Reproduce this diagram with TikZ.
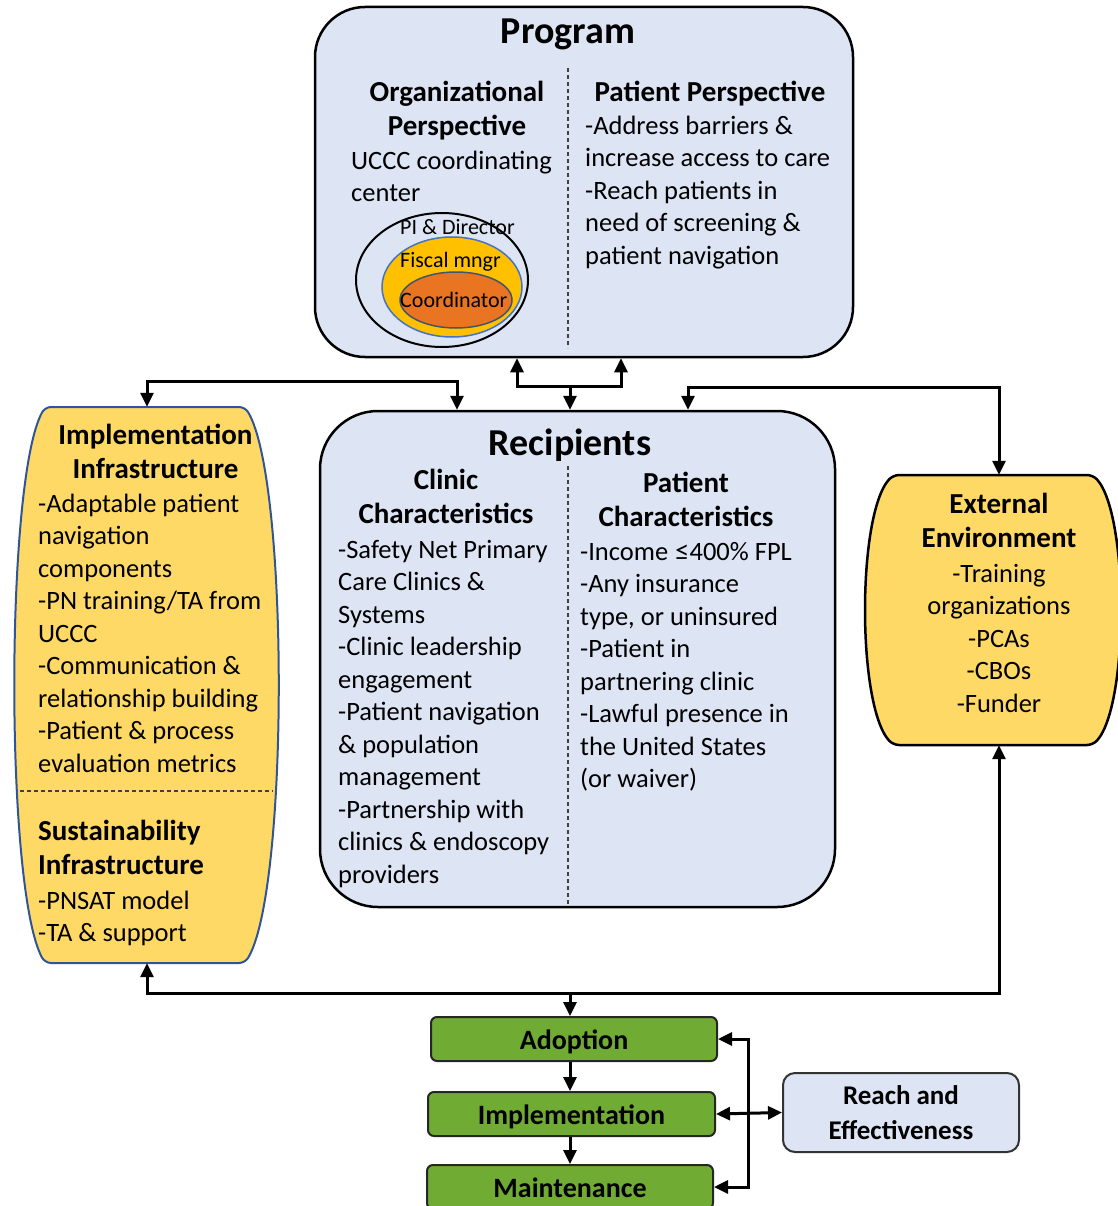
\documentclass[tikz,border=0pt]{standalone}
\usepackage{fontspec}
\setmainfont{Carlito}
\newfontfamily\symfont{Lato}
\usetikzlibrary{arrows.meta,calc}

\definecolor{boxblue}{RGB}{221,228,244}
\definecolor{infyellow}{RGB}{255,217,102}
\definecolor{infborder}{RGB}{47,85,151}
\definecolor{ellyellow}{RGB}{255,192,0}
\definecolor{ellorange}{RGB}{233,117,35}
\definecolor{ellblue}{RGB}{68,114,196}
\definecolor{ellgray}{RGB}{68,84,106}
\definecolor{stagegreen}{RGB}{112,171,52}

\newcommand\fbody{\fontsize{26.5}{32.5}\selectfont}
\newcommand\fhead{\fontsize{29}{34.5}\selectfont\bfseries}
\newcommand\ftitle{\fontsize{38}{44}\selectfont\bfseries}
\newcommand\fsmall{\fontsize{22}{26}\selectfont}
\newcommand\fstage{\fontsize{28}{33}\selectfont\bfseries}
\newcommand\freach{\fontsize{27}{35}\selectfont\bfseries}

\tikzset{
  panel/.style={draw=black, line width=2.5pt, fill=boxblue, rounded corners=50pt, inner sep=0pt},
  anchorbox/.style={inner sep=0pt},
  infra/.style={draw=infborder, line width=2pt, fill=infyellow, rounded corners=6pt},
  envshape/.style={draw=black, line width=2.5pt, fill=infyellow, rounded corners=6pt},
  sep/.style={line width=1.3pt, black!75, dash pattern=on 4pt off 3pt},
  conn/.style={line width=3pt, black},
  stage/.style={draw=black!85, line width=2pt, fill=stagegreen, rounded corners=6pt,
    minimum height=44pt, inner sep=0pt, text height=24pt, text depth=4pt, font=\fstage},
  outcome/.style={draw=black!80, line width=2pt, fill=boxblue, rounded corners=12pt,
    minimum width=236pt, minimum height=79pt, inner sep=0pt, align=center, font=\freach},
  title/.style={anchor=base, inner sep=0pt, font=\ftitle},
  hd/.style={anchor=north, inner sep=0pt, align=center, font=\fhead},
  txt/.style={anchor=north west, inner sep=0pt, align=left, font=\fbody},
  small/.style={anchor=base west, inner sep=0pt, font=\fsmall},
}

\begin{document}
\begin{tikzpicture}[x=1pt, y=-1pt, >={Triangle[length=14pt,width=13pt]}]
\useasboundingbox (0,0) rectangle (1117,1206);

% ---------- Program ----------
\node[panel, minimum width=538pt, minimum height=350pt] (prog) at (584,182) {};
\draw[sep] (568,68) -- (568,348);
\node[title] (progT) at (568,44) {Program};
\node[hd] (orgH) at (457,76.85) {\strut Organizational\\Perspective};
\node[txt] (orgT) at (351,146.25) {\strut UCCC coordinating\\center};
\draw[black, line width=2pt] (442,280) ellipse [x radius=86pt, y radius=67pt];
\draw[ellblue, line width=1.5pt, fill=ellyellow] (452,287) ellipse [x radius=70pt, y radius=50pt];
\draw[ellgray, line width=1.5pt, fill=ellorange] (456,300) ellipse [x radius=56pt, y radius=28pt];
\node[small] (pid) at (400,235) {PI \& Director};
\node[small] (fis) at (400,267) {Fiscal mngr};
\node[small] (coo) at (400,307) {Coordinator};
\node[hd] (patH) at (710,76.85) {\strut Patient Perspective};
\node[txt] (patT) at (585,111.25) {\strut -Address barriers \&\\increase access to care\\-Reach patients in\\need of screening \&\\patient navigation};

% ---------- Recipients ----------
\node[panel, rounded corners=58pt, minimum width=515pt, minimum height=496pt] (recip) at (577.5,659) {};
\draw[sep] (568,466) -- (568,905);
\node[title] (recT) at (570,455) {Recipients};
\node[hd] (cliH) at (446,464.85) {\strut Clinic\\Characteristics};
\node[hd] (pchH) at (686,467.85) {\strut Patient\\Characteristics};
\node[txt] (cliT) at (338,535.25) {\strut -Safety Net Primary\\Care Clinics \&\\Systems\\-Clinic leadership\\engagement\\-Patient navigation\\\& population\\management\\-Partnership with\\clinics \& endoscopy\\providers};
\node[txt] (pchT) at (580,537.25) {\strut -Income {\symfont ≤}400\% FPL\\-Any insurance\\type, or uninsured\\-Patient in\\partnering clinic\\-Lawful presence in\\the United States\\(or waiver)};

% ---------- Implementation / sustainability infrastructure ----------
\node[anchorbox, minimum width=263pt, minimum height=556pt] (impl) at (146.5,685) {};
\draw[infra] (145,407) -- (245,407) .. controls (289,480) and (289,890) .. (245,963)
  -- (45,963) .. controls (5,890) and (5,480) .. (45,407) -- cycle;
\draw[sep] (20,791) -- (273,791);
\node[hd] (impH) at (155.5,419.85) {\strut Implementation\\Infrastructure};
\node[txt] (impT) at (38,489.25) {\strut -Adaptable patient\\navigation\\components\\-PN training/TA from\\UCCC\\-Communication \&\\relationship building\\-Patient \& process\\evaluation metrics};
\node[hd, anchor=north west, align=left] (susH) at (38,815.85) {\strut Sustainability\\Infrastructure};
\node[txt] (susT) at (38,886.25) {\strut -PNSAT model\\-TA \& support};

% ---------- External environment ----------
\node[anchorbox, minimum width=256pt, minimum height=270pt] (ext) at (993,610) {};
\draw[envshape] (993,475) -- (1093,475) .. controls (1129,515) and (1129,705) .. (1093,745)
  -- (893,745) .. controls (857,705) and (857,515) .. (893,475) -- cycle;
\node[hd] (extH) at (999,488.85) {\strut External\\Environment};
\node[txt, anchor=north, align=center] (extT) at (999,559.25) {\strut -Training\\organizations\\-PCAs\\-CBOs\\-Funder};

% ---------- RE-AIM stages ----------
\node[stage, minimum width=286pt] (adopt) at (574,1039) {Adoption};
\node[stage, minimum width=287pt] (implem) at (571.5,1114) {Implementation};
\node[stage, minimum width=286pt] (maint) at (570,1187) {Maintenance};
\node[outcome] (reach) at (901,1112.5) {Reach and\\Effectiveness};

% ---------- Connectors ----------
\coordinate (pl) at (517,386);
\coordinate (pr) at (621,386);
\coordinate (pm) at (570,386);
\draw[conn,<->] (pl |- prog.south) -- (pl) -- (pr) -- (pr |- prog.south);
\draw[conn,->] (pm) -- (pm |- recip.north);

\coordinate (la) at (147,381);
\coordinate (lb) at (457,381);
\draw[conn,<->] (la |- impl.north) -- (la) -- (lb) -- (lb |- recip.north);

\coordinate (ra) at (688,387);
\coordinate (rb) at (999,387);
\draw[conn,<->] (ra |- recip.north) -- (ra) -- (rb) -- (rb |- ext.north);

\coordinate (ba) at (147,993);
\coordinate (bb) at (999,993);
\coordinate (bm) at (570,993);
\draw[conn,<->] (ba |- impl.south) -- (ba) -- (bb) -- (bb |- ext.south);
\draw[conn,->] (bm) -- (bm |- adopt.north);

\coordinate (sx) at (570,0);
\draw[conn,->] (sx |- adopt.south) -- (sx |- implem.north);
\draw[conn,->] (sx |- implem.south) -- (sx |- maint.north);

\coordinate (vx) at (748,0);
\draw[conn,<->] (adopt.east) -- (adopt.east -| vx) -- (maint.east -| vx) -- (maint.east);
\draw[conn,<->] (implem.east) -- (reach.west);
\end{tikzpicture}
\end{document}
